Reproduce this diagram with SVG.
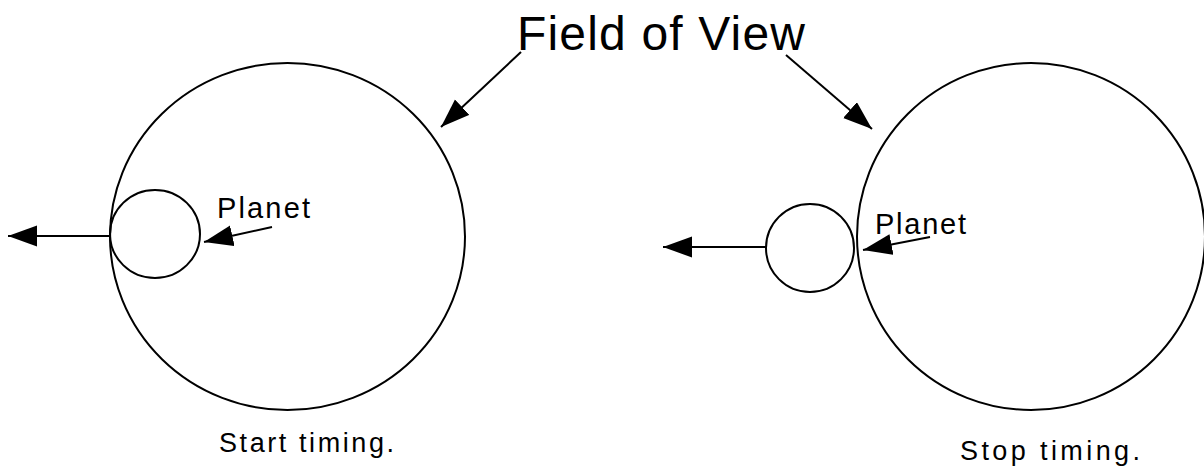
<svg xmlns="http://www.w3.org/2000/svg" width="1204" height="466" viewBox="0 0 1204 466">
  <style>
    .shape { fill: none; stroke: #000; stroke-width: 2; }
    .conn { fill: none; stroke: #000; stroke-width: 2; marker-end: url(#head); }
    .lbl { font-family: "Liberation Sans", Arial, Helvetica, sans-serif; fill: #000; }
  </style>
  <defs>
    <marker id="head" markerUnits="userSpaceOnUse" markerWidth="30" markerHeight="22" refX="29" refY="10.5" orient="auto">
      <path d="M0,0 L29,10.5 L0,21 Z" fill="#000"/>
    </marker>
  </defs>
  <rect width="1204" height="466" fill="#fff"/>

  <g id="title">
    <text class="lbl" x="517" y="50" font-size="48" textLength="288" lengthAdjust="spacing">Field of View</text>
  </g>

  <g id="fov-left">
    <ellipse class="shape" cx="287.5" cy="236.5" rx="177.5" ry="173.5"/>
  </g>
  <g id="planet-left">
    <ellipse class="shape" cx="155" cy="234" rx="45" ry="44"/>
  </g>
  <g id="label-planet-left">
    <text class="lbl" x="217" y="218" font-size="29" textLength="93" lengthAdjust="spacing">Planet</text>
  </g>
  <g id="caption-left">
    <text class="lbl" x="219" y="452" font-size="27" textLength="175" lengthAdjust="spacing">Start timing.</text>
  </g>

  <g id="fov-right">
    <ellipse class="shape" cx="1031" cy="236.5" rx="174" ry="173.5"/>
  </g>
  <g id="planet-right">
    <ellipse class="shape" cx="810" cy="248" rx="44" ry="44"/>
  </g>
  <g id="label-planet-right">
    <text class="lbl" x="875" y="234" font-size="29" textLength="91" lengthAdjust="spacing">Planet</text>
  </g>
  <g id="caption-right">
    <text class="lbl" x="960" y="460" font-size="27" textLength="180" lengthAdjust="spacing">Stop timing.</text>
  </g>

  <g id="connectors">
    <line class="conn" x1="521" y1="52" x2="441" y2="127"/>
    <line class="conn" x1="786" y1="55" x2="872" y2="129"/>
    <line class="conn" x1="110" y1="236" x2="8" y2="236"/>
    <line class="conn" x1="272" y1="227" x2="204" y2="242"/>
    <line class="conn" x1="767" y1="247" x2="663" y2="247"/>
    <line class="conn" x1="930" y1="237" x2="863" y2="250"/>
  </g>
</svg>
